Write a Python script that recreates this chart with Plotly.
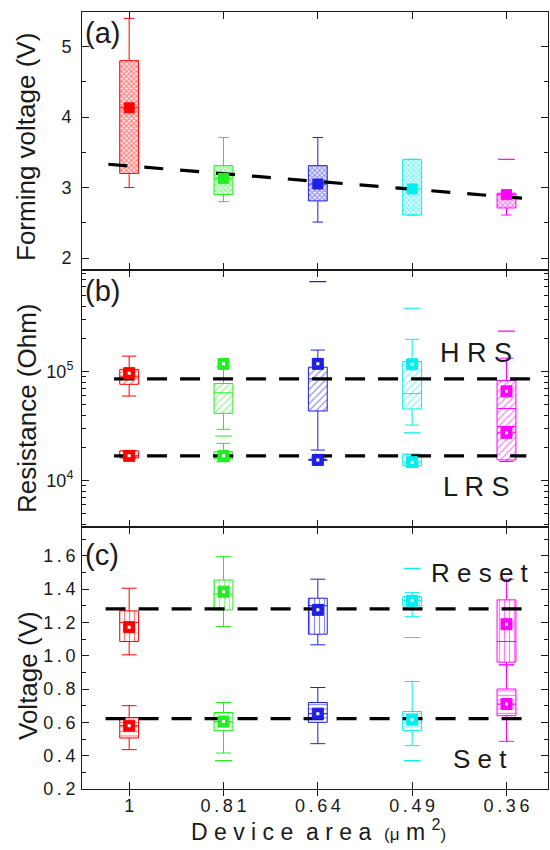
import plotly.graph_objects as go

# ---------------- data ----------------
areas = ["1", "0.81", "0.64", "0.49", "0.36"]
colors = ["#ff0000", "#22ee22", "#1f1fe6", "#00eeee", "#ff00ff"]

# (a) forming voltage (V)
form_lower = [3.00, 2.80, 2.51, 2.61, 2.61]
form_q1 = [3.20, 2.90, 2.81, 2.61, 2.71]
form_median = [4.13, 3.13, 3.05, 2.98, 2.90]
form_q3 = [4.80, 3.31, 3.31, 3.40, 2.92]
form_upper = [5.40, 3.71, 3.71, 3.40, 2.92]
form_mean = [4.13, 3.13, 3.05, 2.98, 2.90]
form_out_idx = [4]
form_out_val = [3.40]
form_trend_x = [-0.22, 4.24]
form_trend_y = [3.33, 2.84]

# (b) resistance (Ohm)
hrs_lower = [5.98e4, 2.96e4, 1.91e4, 3.24e4, 3.13e4]
hrs_q1 = [7.66e4, 4.15e4, 4.36e4, 4.55e4, 3.13e4]
hrs_median = [9.1e4, 6.4e4, 8.6e4, 6.3e4, 4.6e4]
hrs_q3 = [1.05e5, 7.8e4, 1.10e5, 1.24e5, 8.3e4]
hrs_upper = [1.39e5, 1.11e5, 1.58e5, 1.98e5, 1.33e5]
hrs_mean = [9.7e4, 1.18e5, 1.18e5, 1.17e5, 6.6e4]
hrs_out_idx = [1, 2, 3, 3, 4]
hrs_out_val = [2.57e4, 6.7e5, 3.82e5, 2.75e4, 2.36e5]

lrs_lower = [1.62e4, 1.49e4, 1.47e4, 1.37e4, 1.50e4]
lrs_q1 = [1.62e4, 1.60e4, 1.58e4, 1.37e4, 1.55e4]
lrs_median = [1.69e4, 1.69e4, 1.55e4, 1.48e4, 2.75e4]
lrs_q3 = [1.88e4, 1.85e4, 1.78e4, 1.75e4, 3.13e4]
lrs_upper = [1.88e4, 2.20e4, 1.94e4, 1.75e4, 3.13e4]
lrs_mean = [1.69e4, 1.69e4, 1.55e4, 1.48e4, 2.75e4]
hrs_ref_x = [-0.16, 4.26]
hrs_ref_y = [8.6e4, 8.6e4]
lrs_ref_x = [-0.16, 4.21]
lrs_ref_y = [1.69e4, 1.69e4]

# (c) voltage (V)
rst_lower = [1.005, 1.175, 1.065, 1.234, 0.945]
rst_q1 = [1.085, 1.275, 1.129, 1.299, 0.961]
rst_median = [1.20, 1.37, 1.30, 1.33, 1.085]
rst_q3 = [1.269, 1.454, 1.345, 1.354, 1.335]
rst_upper = [1.405, 1.594, 1.459, 1.378, 1.459]
rst_mean = [1.171, 1.384, 1.275, 1.329, 1.189]
rst_out_idx = [3, 3]
rst_out_val = [1.524, 1.109]

set_lower = [0.436, 0.416, 0.472, 0.46, 0.486]
set_q1 = [0.506, 0.55, 0.60, 0.55, 0.64]
set_median = [0.58, 0.605, 0.652, 0.616, 0.71]
set_q3 = [0.629, 0.659, 0.719, 0.665, 0.80]
set_upper = [0.70, 0.719, 0.809, 0.845, 0.945]
set_mean = [0.58, 0.605, 0.652, 0.616, 0.71]
set_out_idx = [1, 3]
set_out_val = [0.37, 0.37]
rst_ref_x = [-0.25, 4.16]
rst_ref_y = [1.281, 1.281]
set_ref_x = [-0.25, 4.18]
set_ref_y = [0.622, 0.622]

# ---------------- layout geometry ----------------
W, H = 550, 850
ML, MR, MT, MB = 82, 2, 12, 61
PW, PH = W - ML - MR, H - MT - MB
FONT = "Liberation Sans, Arial, sans-serif"
INK = "#1a1a1a"


def py(ypx):
    return (H - MB - ypx) / PH


def px(xpx):
    return (xpx - ML) / PW


dom_c = [0, py(526.7)]
dom_b = [py(526.7), py(270)]
dom_a = [py(270), 1]

xs = list(range(len(areas)))
fig = go.Figure()


def add_series(xa, ya, lower, q1, med, q3, upper, pattern, ww):
    fig.add_trace(go.Bar(
        x=xs, y=[b - a for a, b in zip(q1, q3)], base=q1, width=0.2,
        xaxis=xa, yaxis=ya, hoverinfo="skip",
        marker=dict(color="rgba(0,0,0,0)", line=dict(width=0),
                    pattern=dict(fgcolor=colors, **pattern))))
    for i in xs:
        fig.add_trace(go.Box(
            x=[i], lowerfence=[lower[i]], q1=[q1[i]], median=[med[i]], q3=[q3[i]],
            upperfence=[upper[i]], width=0.2, whiskerwidth=ww, orientation="v",
            fillcolor="rgba(0,0,0,0)", line=dict(color=colors[i], width=1),
            boxpoints=False, xaxis=xa, yaxis=ya, hoverinfo="skip"))


def add_means(xa, ya, mean, msize, hollow):
    fig.add_trace(go.Scatter(
        x=xs, y=mean, mode="markers", xaxis=xa, yaxis=ya, hoverinfo="skip",
        marker=dict(symbol="square", size=msize, color=colors,
                    line=dict(color=colors, width=1))))
    if hollow:
        fig.add_trace(go.Scatter(
            x=xs, y=mean, mode="markers", xaxis=xa, yaxis=ya, hoverinfo="skip",
            marker=dict(symbol="square", size=3, color="white",
                        line=dict(width=0))))


def add_outliers(xa, ya, idx, vals):
    fig.add_trace(go.Scatter(
        x=idx, y=vals, mode="markers", xaxis=xa, yaxis=ya, hoverinfo="skip",
        marker=dict(symbol="line-ew", size=12,
                    line=dict(color=[colors[i] for i in idx], width=1.2))))


def add_ref(xa, ya, x, y, dash):
    fig.add_trace(go.Scatter(
        x=x, y=y, mode="lines", xaxis=xa, yaxis=ya, hoverinfo="skip",
        line=dict(color="black", width=3.2, dash=dash)))


pat_a = dict(shape="x", size=3.5, solidity=0.6, fillmode="overlay")
pat_b = dict(shape="/", size=5, solidity=0.25, fillmode="overlay")
pat_r = dict(shape="|", size=5, solidity=0.25, fillmode="overlay")
pat_s = dict(shape="-", size=4.5, solidity=0.28, fillmode="overlay")

# panel (a)
add_series("x3", "y3", form_lower, form_q1, form_median, form_q3, form_upper,
           pat_a, 0.55)
add_outliers("x3", "y3", form_out_idx, form_out_val)
add_ref("x3", "y3", form_trend_x, form_trend_y, "19px,17px")
add_means("x3", "y3", form_mean, 10, False)

# panel (b)
add_series("x2", "y2", hrs_lower, hrs_q1, hrs_median, hrs_q3, hrs_upper,
           pat_b, 0.75)
add_series("x2", "y2", lrs_lower, lrs_q1, lrs_median, lrs_q3, lrs_upper,
           pat_b, 0.75)
add_outliers("x2", "y2", hrs_out_idx, hrs_out_val)
add_ref("x2", "y2", hrs_ref_x, hrs_ref_y, "20px,13px")
add_ref("x2", "y2", lrs_ref_x, lrs_ref_y, "20px,13px")
add_means("x2", "y2", hrs_mean, 11, True)
add_means("x2", "y2", lrs_mean, 11, True)

# panel (c)
add_series("x", "y", rst_lower, rst_q1, rst_median, rst_q3, rst_upper,
           pat_r, 0.8)
add_series("x", "y", set_lower, set_q1, set_median, set_q3, set_upper,
           pat_s, 0.8)
add_outliers("x", "y", rst_out_idx, rst_out_val)
add_outliers("x", "y", set_out_idx, set_out_val)
add_ref("x", "y", rst_ref_x, rst_ref_y, "20px,13px")
add_ref("x", "y", set_ref_x, set_ref_y, "20px,13px")
add_means("x", "y", rst_mean, 11, True)
add_means("x", "y", set_mean, 11, True)

# invisible trace to make the overlay x axis render
fig.add_trace(go.Scatter(x=[0], y=[1.0], xaxis="x4", yaxis="y", mode="markers",
                         marker=dict(opacity=0), hoverinfo="skip"))


def spaced(s):
    return "\u2009".join(s)


xr = [-0.5, 4.44]
tickfont = dict(family=FONT, size=18, color=INK)
xcommon = dict(range=xr, tickmode="array", tickvals=xs, showgrid=False,
               zeroline=False, showline=True, linecolor=INK, linewidth=1,
               ticks="inside", ticklen=7, tickcolor=INK, mirror="ticks",
               tickfont=tickfont)
ycommon = dict(showgrid=False, zeroline=False, showline=True, linecolor=INK,
               linewidth=1, ticks="inside", ticklen=7, tickcolor=INK,
               mirror="ticks", tickfont=tickfont)

minor_log = [m * 10 ** e for e in (3, 4, 5) for m in range(2, 10)]

fig.update_layout(
    width=W, height=H, margin=dict(l=ML, r=MR, t=MT, b=MB),
    paper_bgcolor="white", plot_bgcolor="white", showlegend=False,
    barmode="overlay", boxmode="overlay",
    font=dict(family=FONT, color=INK),
    xaxis=dict(**xcommon, anchor="y", ticktext=[spaced(a) for a in areas]),
    xaxis2=dict(**xcommon, anchor="y2", showticklabels=False),
    xaxis3=dict(**xcommon, anchor="y3", showticklabels=False),
    xaxis4=dict(range=xr, overlaying="x", anchor="y", tickmode="array",
                tickvals=xs, ticks="outside", ticklen=6, tickcolor=INK,
                showticklabels=False, showgrid=False, zeroline=False,
                showline=False),
    yaxis3=dict(**ycommon, domain=dom_a, range=[1.83, 5.49], tickmode="array",
                tickvals=[2, 3, 4, 5], ticklabelstandoff=6,
                minor=dict(ticks="inside", ticklen=4, tickcolor=INK, dtick=0.5,
                           tick0=0, showgrid=False)),
    yaxis2=dict(**ycommon, domain=dom_b, type="log", range=[3.578, 5.933],
                tickmode="array", tickvals=[1e4, 1e5],
                ticktext=["10<sup>4</sup>", "10<sup>5</sup>"], ticklabelstandoff=4,
                minor=dict(ticks="inside", ticklen=4, tickcolor=INK,
                           tickmode="array", tickvals=minor_log, showgrid=False)),
    yaxis=dict(**ycommon, domain=dom_c, range=[0.2, 1.774], tickmode="array",
               tickvals=[0.2, 0.4, 0.6, 0.8, 1.0, 1.2, 1.4, 1.6],
               ticktext=[spaced(f"{v:.1f}") for v in
                         [0.2, 0.4, 0.6, 0.8, 1.0, 1.2, 1.4, 1.6]],
               ticklabelstandoff=2,
               minor=dict(ticks="inside", ticklen=4, tickcolor=INK, dtick=0.1,
                          tick0=0, showgrid=False)),
)

ann = []


def text(s, xpx, ypx, size, angle=0, xanchor="center"):
    ann.append(dict(text=s, x=px(xpx), y=py(ypx), xref="paper", yref="paper",
                    showarrow=False, xanchor=xanchor, yanchor="middle",
                    textangle=angle, font=dict(family=FONT, size=size, color=INK)))


text("(a)", 83, 33, 29, xanchor="left")
text("(b)", 83, 291, 29, xanchor="left")
text("(c)", 83, 555, 29, xanchor="left")
text("H R S", 476, 353, 27)
text("L R S", 476, 487, 27)
text("R e s e t", 480, 573, 26)
text("S e t", 480, 759, 26)
text("Forming voltage (V)", 26, 147, 26, angle=-90)
text("Resistance (Ohm)", 27, 408, 26, angle=-90)
text("Voltage (V)", 28, 676, 26, angle=-90)
text("D e v i c e  a r e a  <span style='font-size:17px'>(\u03bc</span> m "
     "<sup>2</sup><span style='font-size:17px'>)</span>", 318, 830, 23)
fig.update_layout(annotations=ann)

fig.write_html("out.html", config={"displayModeBar": False},
               post_script="document.body.style.margin='0px';"
                           "document.body.style.overflow='hidden';")
